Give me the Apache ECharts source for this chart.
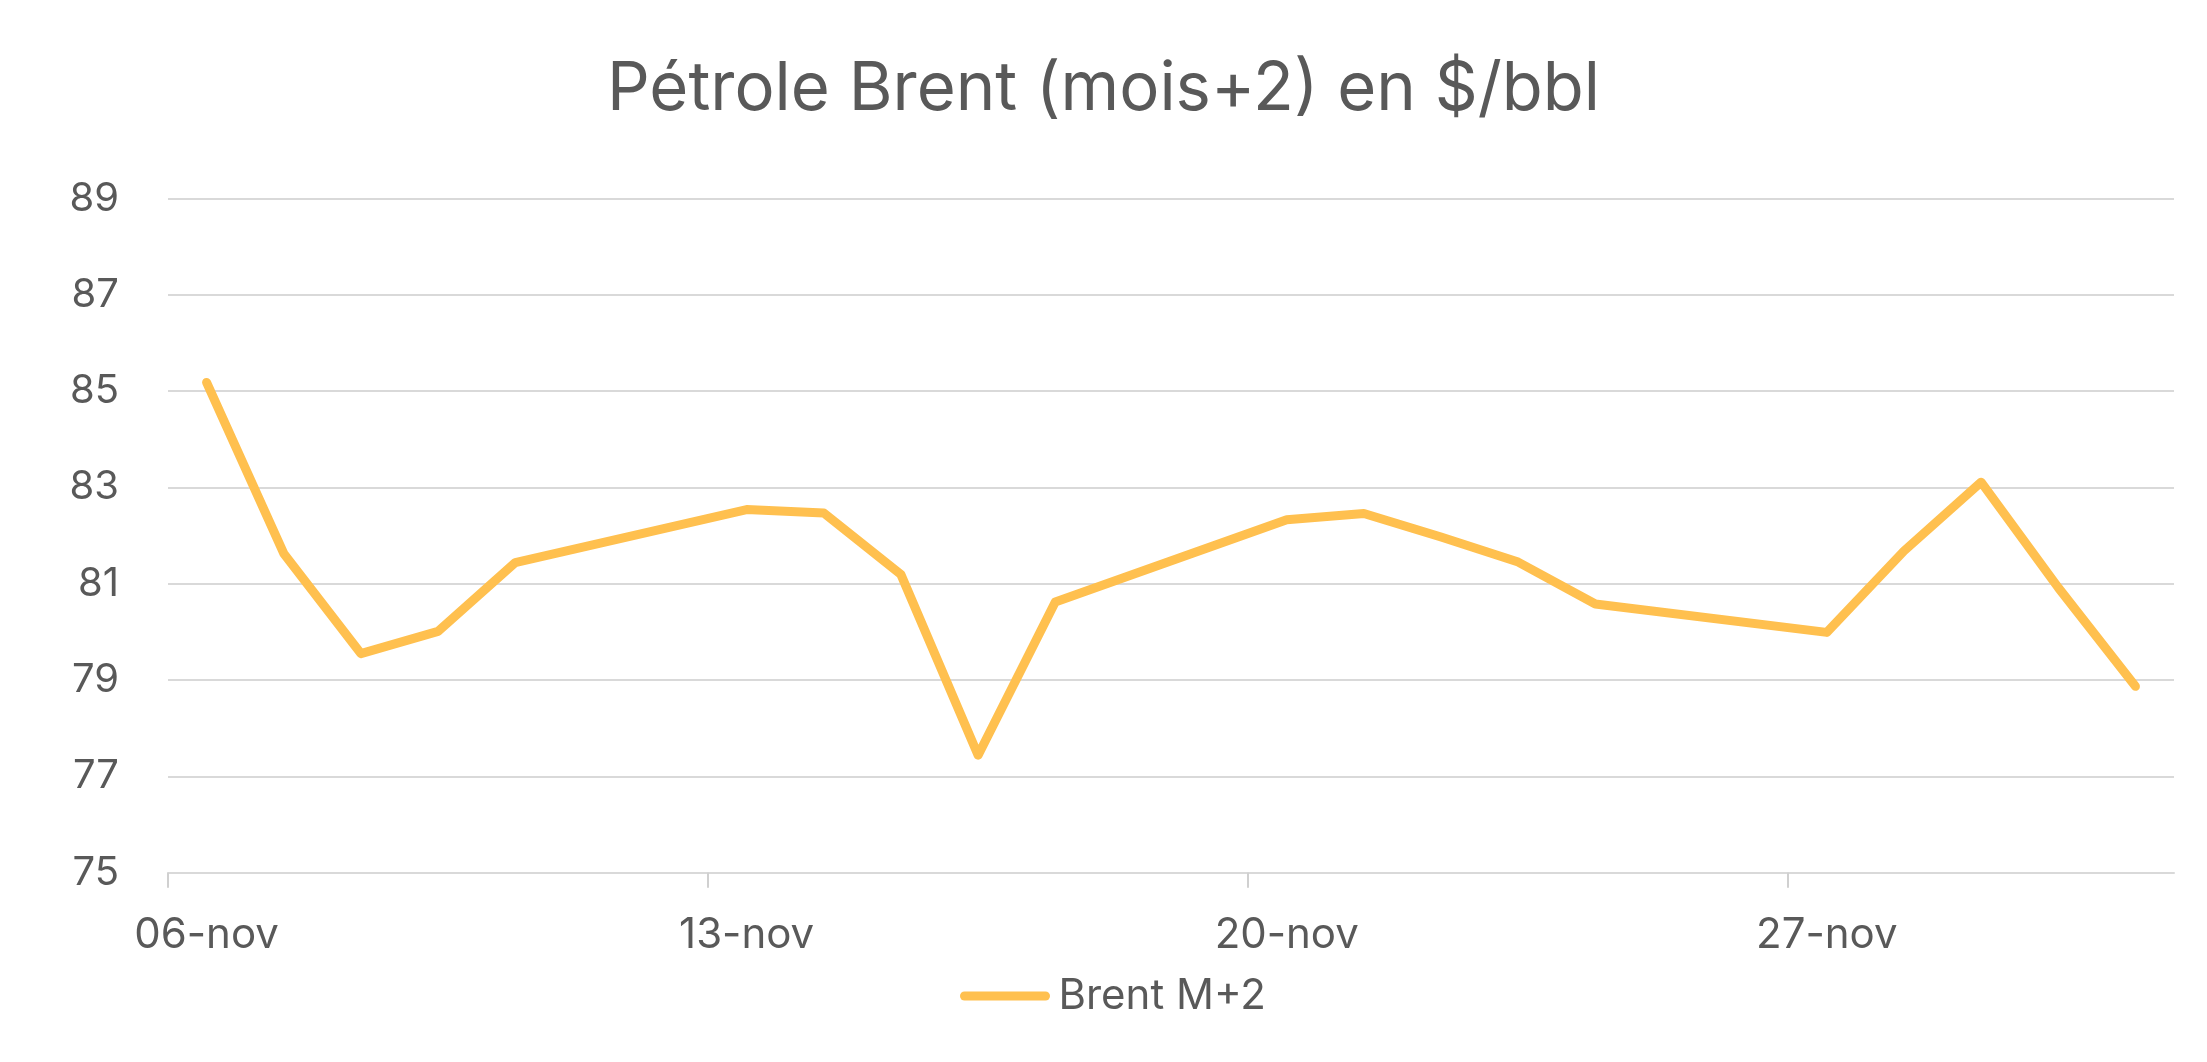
<!DOCTYPE html>
<html>
<head>
<meta charset="utf-8">
<script src="https://cdn.jsdelivr.net/npm/echarts@6/dist/echarts.min.js"></script>
<style>
  html, body { margin: 0; padding: 0; background: #fff; }
  #chart { width: 2207px; height: 1062px; }
</style>
</head>
<body>
<div id="chart"></div>
<script>
var chart = echarts.init(document.getElementById('chart'));

// un jour par catégorie (axe de dates Excel), les week-ends sans valeur
var jours = ["06-nov", "07-nov", "08-nov", "09-nov", "10-nov", "11-nov", "12-nov",
             "13-nov", "14-nov", "15-nov", "16-nov", "17-nov", "18-nov", "19-nov",
             "20-nov", "21-nov", "22-nov", "23-nov", "24-nov", "25-nov", "26-nov",
             "27-nov", "28-nov", "29-nov", "30-nov", "01-déc"];
// Brent M+2 en $/bbl
var brentM2 = [85.18, 81.63, 79.55, 80.01, 81.44, null, null,
               82.54, 82.47, 81.19, 77.44, 80.62, null, null,
               82.33, 82.46, 81.97, 81.45, 80.58, null, null,
               79.99, 81.68, 83.11, 80.92, 78.87];

// bornes entre les jours (pour les graduations hebdomadaires, sans graduation finale)
var bornes = jours.concat(["02-déc"]);

var gris = '#595959';
var police = 'Inter';

var option = {
    animation: false,
    backgroundColor: '#ffffff',
    title: {
        text: 'Pétrole Brent (mois+2) en $/bbl',
        left: 'center',
        top: 50,
        textStyle: { color: gris, fontFamily: police, fontSize: 67, fontWeight: 'normal', lineHeight: 70 }
    },
    legend: {
        data: ['Brent M+2'],
        left: 955,
        top: 970,
        icon: 'path://M5,0 L95,0 A5,5 0 0 1 95,10 L5,10 A5,5 0 0 1 5,0 Z',
        itemWidth: 97,
        itemHeight: 9,
        itemGap: 7,
        textStyle: { color: gris, fontFamily: police, fontSize: 42, lineHeight: 40, padding: [0, 0, 0, 0] }
    },
    grid: { left: 168, right: 33, top: 198.5, bottom: 189.3, containLabel: false },
    xAxis: [
        {
            type: 'category',
            data: jours,
            boundaryGap: true,
            axisLine: { show: true, lineStyle: { color: '#d9d9d9', width: 2 } },
            axisTick: { show: false },
            axisLabel: { interval: 6, color: gris, fontFamily: police, fontSize: 42, lineHeight: 42, margin: 42 },
            splitLine: { show: false }
        },
        {
            type: 'category',
            data: bornes,
            position: 'bottom',
            boundaryGap: false,
            axisLine: { show: false },
            axisTick: { show: true, interval: 6, length: 15, lineStyle: { color: '#d0d0d0', width: 2 } },
            axisLabel: { show: false },
            splitLine: { show: false }
        }
    ],
    yAxis: {
        type: 'value',
        min: 75,
        max: 89,
        interval: 2,
        axisLine: { show: false },
        axisTick: { show: false },
        axisLabel: { color: gris, fontFamily: police, fontSize: 40, margin: 49 },
        splitLine: { lineStyle: { color: '#d9d9d9', width: 2 } }
    },
    series: [
        {
            name: 'Brent M+2',
            type: 'line',
            xAxisIndex: 0,
            data: brentM2,
            connectNulls: true,
            showSymbol: false,
            symbol: 'none',
            color: '#FFC04F',
            lineStyle: { color: '#FFC04F', width: 9, cap: 'round', join: 'round' }
        }
    ]
};

chart.setOption(option);
</script>
</body>
</html>
